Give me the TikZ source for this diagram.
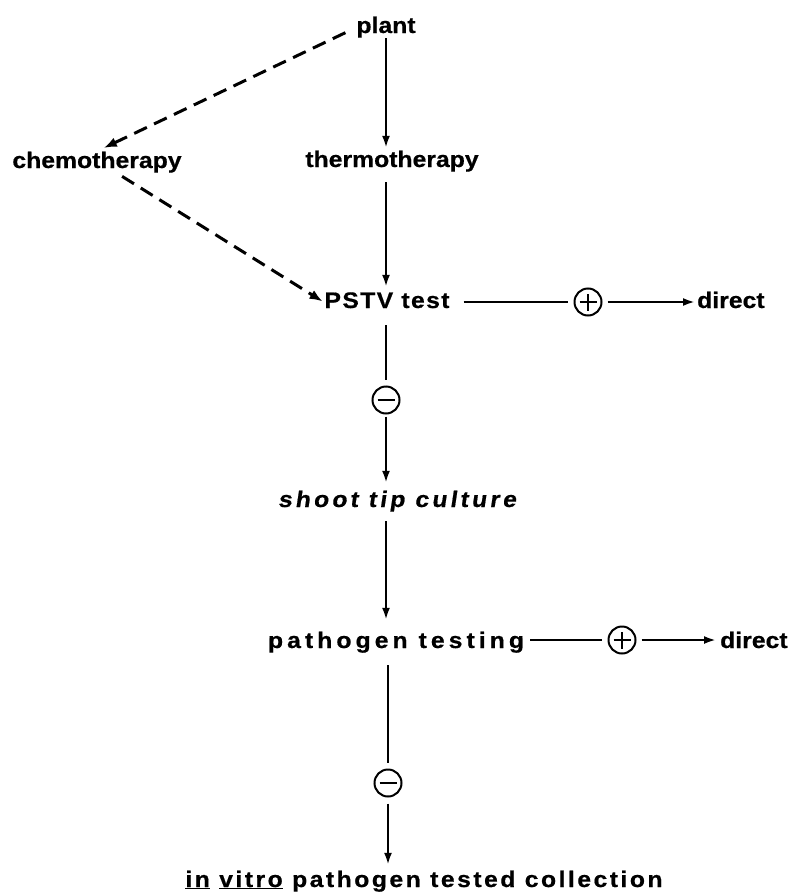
\documentclass[tikz,border=0pt]{standalone}
\usepackage{fontspec}
\usetikzlibrary{arrows.meta}
\newfontfamily\lbl{Liberation Sans Bold}[FakeStretch=1.1,FakeBold=0.6]
\newfontfamily\lblsp{Liberation Sans Bold}[FakeStretch=1.1,FakeBold=0.6,LetterSpace=6]
\newfontfamily\lblit{Liberation Sans Bold}[FakeStretch=1.1,FakeBold=0.6,FakeSlant=0.15,LetterSpace=14]
\newfontfamily\lblwide{Liberation Sans Bold}[FakeStretch=1.1,FakeBold=0.6,LetterSpace=18]
\newfontfamily\lblwider{Liberation Sans Bold}[FakeStretch=1.1,FakeBold=0.6,LetterSpace=11]
\begin{document}
\begin{tikzpicture}[x=1pt,y=-1pt,
  txt/.style={inner sep=0pt,text height=16pt,text depth=5pt,anchor=base,font=\fontsize{22.5}{24}\selectfont\lbl},
  ln/.style={line width=2.3pt},
  arr/.style={line width=2.3pt,-{Latex[length=12pt,width=8pt]}},
  dsh/.style={line width=3pt,dash pattern=on 14pt off 8pt,-{Latex[length=13pt,width=10pt]}},
  sgn/.style={circle,draw,line width=2pt,minimum size=27pt,inner sep=0pt},
  plus/.style={sgn,path picture={\draw[line width=2.2pt] ([xshift=-8.5pt]path picture bounding box.center) -- ([xshift=8.5pt]path picture bounding box.center) ([yshift=-8.5pt]path picture bounding box.center) -- ([yshift=8.5pt]path picture bounding box.center);}},
  minus/.style={sgn,path picture={\draw[line width=2.6pt] ([xshift=-8.5pt]path picture bounding box.center) -- ([xshift=8.5pt]path picture bounding box.center);}}
]
\useasboundingbox (0,0) rectangle (806,894);
\node[txt] (plant) at (386,33) {plant};
\node[txt] (chemo) at (97,168) {chemotherapy};
\node[txt] (thermo) at (392,167) {thermotherapy};
\node[txt,font=\fontsize{22.5}{24}\selectfont\lblsp] (pstv) at (387,308) {PSTV test};
\node[txt,anchor=base west] (direct1) at (697,308) {direct};
\node[plus] (p1) at (588,302) {};
\node[minus] (m1) at (386,400) {};
\node[txt,font=\fontsize{22.5}{24}\selectfont\lblit] (shoot) at (397,507) {shoot tip culture};
\node[txt,font=\fontsize{22.5}{24}\selectfont\lblwide] (patho) at (396,648) {pathogen testing};
\node[plus] (p2) at (622,640) {};
\node[txt,anchor=base west] (direct2) at (720,648) {direct};
\node[minus] (m2) at (388,783) {};
\node[txt,font=\fontsize{22.5}{24}\selectfont\lblwider] (invitro) at (424,887) {\underline{in} \underline{vitro} pathogen tested collection};

\draw[arr,shorten >=3pt] (plant.south) -- (plant.south |- thermo.north);
\draw[arr,shorten <=10pt,shorten >=5pt] (thermo.south -| plant) -- (pstv.north -| plant);
\draw[ln,shorten <=12pt,shorten >=6pt] (pstv.south -| m1) -- (m1.north);
\draw[arr,shorten <=2pt,shorten >=8pt] (m1.south) -- (m1.south |- shoot.north);
\draw[arr,shorten <=9pt,shorten >=12pt] (shoot.south -| m1) -- (patho.north -| m1);
\draw[ln,shorten <=12pt,shorten >=6pt] (patho.south -| m2) -- (m2.north);
\draw[arr,shorten <=6pt,shorten >=6pt] (m2.south) -- (m2.south |- invitro.north);
\draw[ln,shorten <=14pt,shorten >=6pt] (pstv.east |- p1) -- (p1.west);
\draw[arr,shorten <=5pt,shorten >=2pt] (p1.east) -- (direct1.west |- p1);
\draw[ln,shorten <=6pt,shorten >=6pt] (patho.east |- p2) -- (p2.west);
\draw[arr,shorten <=5pt,shorten >=4pt] (p2.east) -- (direct2.west |- p2);
\draw[dsh,shorten <=12pt,shorten >=2pt] (plant.west) -- ([xshift=5pt,yshift=3pt]chemo.north);
\draw[dsh,shorten <=6pt,shorten >=2pt] ([xshift=20pt]chemo.south) -- (pstv.west);
\end{tikzpicture}
\end{document}
